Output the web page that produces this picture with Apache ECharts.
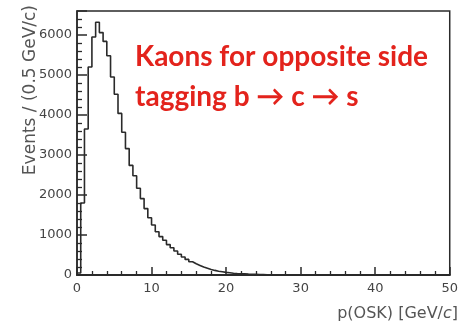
<!DOCTYPE html>
<html>
<head>
<meta charset="UTF-8">
<title>p(OSK)</title>
<script src="https://cdn.jsdelivr.net/npm/echarts@6/dist/echarts.min.js"></script>
<style>
  html, body { margin: 0; padding: 0; background: #fff; }
  #main { width: 461px; height: 321px; }
</style>
</head>
<body>
<div id="main"></div>
<script>
// histogram of kaon momentum, 0.5 GeV/c bins from 0 to 50
var binWidth = 0.5;
var xRange = [0, 50];
var yRange = [0, 6600];
var counts = [
    50, 1800, 3650, 5200, 5950, 6320, 6060, 5840, 5480, 4950,
    4520, 4040, 3570, 3160, 2740, 2480, 2170, 1910, 1660, 1430,
    1250, 1080, 960, 870, 760, 680, 600, 520, 450, 390,
    330, 280, 240, 200, 170, 140, 115, 95, 80, 65,
    55, 45, 38, 32, 27, 22, 18, 15, 12, 10,
    8, 7, 6, 6, 5, 4, 4, 3, 3, 3,
    2, 2, 2, 2, 1, 1, 1, 1, 1, 1,
    1, 1, 1, 0, 1, 0, 0, 1, 0, 0,
    0, 0, 0, 0, 0, 0, 0, 0, 0, 0,
    0, 0, 0, 0, 0, 0, 0, 0, 0, 0
];
var xTitle = 'p(OSK) [GeV/{i|c}]';
var yTitle = 'Events / (0.5 GeV/c)';
var noteLines = ['Kaons for opposite side', 'tagging b \u2192 c \u2192 s'];

var stepData = counts.map(function (c, i) { return [i * binWidth, c]; });
stepData.push([counts.length * binWidth, counts[counts.length - 1]]);

var axisColor = '#2a2a2a';
var labelFont = { color: '#444', fontFamily: 'DejaVu Sans', fontSize: 13 };
var plain = function (v) { return String(v); };

var chart = echarts.init(document.getElementById('main'), null, { renderer: 'canvas' });

chart.setOption({
    animation: false,
    backgroundColor: '#fff',
    grid: {
        left: 77, right: 5, top: 11, bottom: 46, containLabel: false,
        show: true, borderColor: axisColor, borderWidth: 1.5, backgroundColor: 'transparent'
    },
    xAxis: {
        type: 'value', min: xRange[0], max: xRange[1], interval: 10,
        axisLine: { show: true, onZero: false, lineStyle: { color: axisColor, width: 2 } },
        axisTick: { show: true, inside: true, length: 8, lineStyle: { color: axisColor, width: 1.5 } },
        minorTick: { show: true, splitNumber: 5, length: 4, lineStyle: { color: axisColor, width: 1.3 } },
        axisLabel: Object.assign({ margin: 7, formatter: plain }, labelFont),
        splitLine: { show: false }
    },
    yAxis: {
        type: 'value', min: yRange[0], max: yRange[1], interval: 1000,
        axisLine: { show: true, onZero: false, lineStyle: { color: axisColor, width: 1.5 } },
        axisTick: { show: true, inside: true, length: 10, lineStyle: { color: axisColor, width: 1.5 } },
        minorTick: { show: true, splitNumber: 5, length: 5, lineStyle: { color: axisColor, width: 1.3 } },
        axisLabel: Object.assign({ margin: 5, showMaxLabel: false, formatter: plain }, labelFont),
        splitLine: { show: false }
    },
    series: [{
        type: 'line',
        step: 'end',
        symbol: 'none',
        silent: true,
        lineStyle: { color: '#2a2a2a', width: 1.6 },
        data: stepData
    }],
    graphic: [
        {
            type: 'text', x: 31, y: 5, rotation: Math.PI / 2,
            style: { text: yTitle, align: 'right', verticalAlign: 'middle',
                     fill: '#555', font: '17px "DejaVu Sans"' }
        },
        {
            type: 'text', right: 3, top: 306,
            style: { text: xTitle, fill: '#555', font: '16px "DejaVu Sans"',
                     rich: { i: { fontStyle: 'italic', fontSize: 16, fontFamily: 'DejaVu Sans', fill: '#555' } } }
        },
        {
            type: 'text', x: 135, y: 57,
            style: { text: noteLines[0], align: 'left', verticalAlign: 'middle',
                     fill: '#e3231c', font: 'bold 28px Lato' }
        },
        {
            type: 'text', x: 135, y: 97,
            style: { text: noteLines[1], align: 'left', verticalAlign: 'middle',
                     fill: '#e3231c', font: 'bold 28px Lato' }
        }
    ]
});
</script>
</body>
</html>
